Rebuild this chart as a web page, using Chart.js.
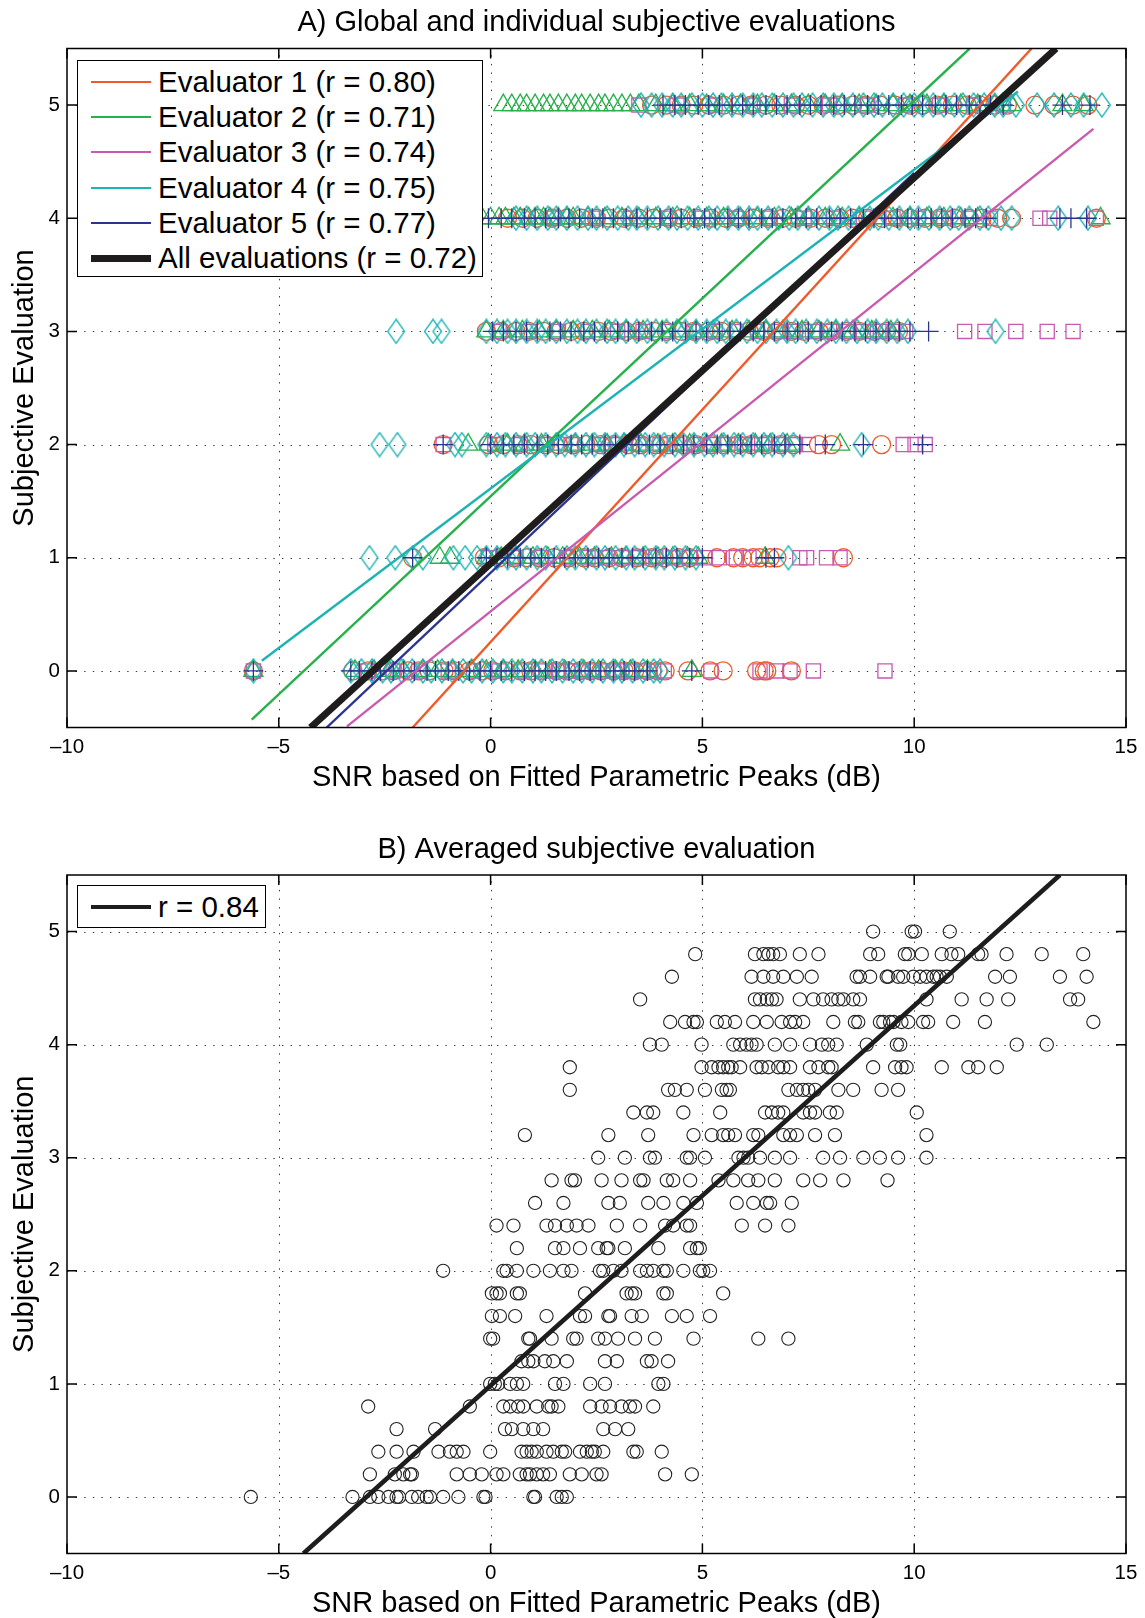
<!DOCTYPE html>
<html lang="en">
<head>
<meta charset="utf-8">
<title>SNR vs subjective evaluation</title>
<script src="https://cdn.jsdelivr.net/npm/chart.js@4.4.1/dist/chart.umd.min.js"></script>
<style>
  body { margin: 0; background: #fff; }
  #page { position: relative; width: 1145px; height: 1618px; overflow: hidden;
          font-family: "Liberation Sans", Arial, sans-serif; }
  canvas { position: absolute; left: 0; }
  .legend { position: absolute; background: #fff; border: 1.5px solid #000; box-sizing: border-box;
            font-size: 29.5px; color: #000; }
  .legend .row { display: flex; align-items: center; height: 35.3px; white-space: nowrap; }
  .legend .swatch { width: 60px; margin-left: 13px; margin-right: 7px; }
</style>
</head>
<body>
<div id="page">
  <canvas id="chartA" width="1145" height="800" style="top:0"></canvas>
  <canvas id="chartB" width="1145" height="814" style="top:804px"></canvas>
  <div class="legend" id="legendA" style="left:77px; top:60px; width:406px; height:217px; padding-top:3px"></div>
  <div class="legend" id="legendB" style="left:77px; top:885px; width:189px; height:43px; padding-top:3px"></div>
</div>
<script>
// ---- data ----
const xTicks = [-10, -5, 0, 5, 10, 15];
const yTicks = [0, 1, 2, 3, 4, 5];
const ratingLevels = [0, 1, 2, 3, 4, 5];

// SNR (dB) of the recordings each evaluator put at rating 0..5
const eval1Snr = [
  [-5.6, -3.25, -2.9, -2.55, -2.3, -1.95, -1.7, -1.45, -1.1, -0.85, -0.5, -0.2, 0.05, 0.35, 0.7, 0.95, 1.2, 1.55, 1.8, 2.1, 2.35, 2.6, 2.9, 3.15, 3.4, 3.7, 3.95, 4.12, 4.66, 5.18, 5.49, 6.28, 6.46, 6.52, 7.1],
  [-1.84, -0.15, 0.2, 0.55, 0.85, 1.15, 1.5, 1.85, 2.2, 2.45, 2.8, 3.1, 3.45, 3.8, 4.1, 4.45, 4.7, 5.34, 5.73, 5.95, 6.2, 6.35, 6.6, 6.76, 8.33],
  [-1.12, -0.05, 0.3, 0.65, 0.95, 1.3, 1.6, 1.95, 2.25, 2.6, 2.9, 3.25, 3.55, 3.9, 4.2, 4.55, 4.85, 5.2, 5.5, 5.85, 6.15, 6.5, 6.85, 7.15, 7.74, 8.05, 9.23],
  [-0.1, 0.25, 0.6, 0.9, 1.25, 1.55, 1.9, 2.2, 2.55, 2.85, 3.2, 3.5, 3.85, 4.15, 4.5, 4.8, 5.15, 5.45, 5.8, 6.1, 6.45, 6.75, 7.1, 7.4, 7.75, 8.05, 8.4, 8.7, 9.05, 9.35, 9.63],
  [0.4, 0.75, 1.1, 1.45, 1.8, 2.15, 2.5, 2.8, 3.15, 3.5, 3.85, 4.2, 4.5, 4.85, 5.2, 5.55, 5.85, 6.2, 6.55, 6.9, 7.2, 7.55, 7.9, 8.25, 8.55, 8.9, 9.25, 9.6, 9.9, 10.25, 10.6, 10.95, 11.3, 11.6, 11.97, 12.3, 14.3],
  [3.8, 4.15, 4.5, 4.8, 5.15, 5.5, 5.85, 6.15, 6.5, 6.85, 7.2, 7.5, 7.85, 8.2, 8.55, 8.85, 9.2, 9.55, 9.9, 10.2, 10.55, 10.9, 11.25, 11.55, 11.9, 12.2, 12.85, 13.3, 13.75, 14.1]
];
const eval2Snr = [
  [-5.6, -3.2, -2.75, -2.4, -2.05, -1.6, -1.25, -0.9, -0.45, -0.1, 0.3, 0.65, 1.05, 1.4, 1.75, 2.2, 2.55, 2.95, 3.3, 3.7, 4.75],
  [-1.2, -0.96, -0.1, 0.25, 0.6, 1.0, 1.35, 1.7, 2.1, 2.45, 2.85, 3.2, 3.6, 3.95, 4.3, 4.65, 4.9, 6.48],
  [-0.53, -0.05, 0.4, 0.8, 1.2, 1.6, 2.0, 2.4, 2.75, 3.15, 3.55, 3.95, 4.3, 4.7, 5.1, 5.45, 5.85, 6.25, 6.6, 7.0, 8.25],
  [-0.1, 0.3, 0.75, 1.15, 1.55, 1.95, 2.4, 2.8, 3.2, 3.6, 4.05, 4.45, 4.85, 5.25, 5.7, 6.1, 6.5, 6.9, 7.35, 7.75, 8.15, 8.55, 9.0, 9.45],
  [-0.2, 0.0, 0.2, 0.35, 0.55, 0.7, 0.9, 1.05, 1.25, 1.4, 1.6, 1.8, 1.95, 2.3, 2.7, 3.1, 3.5, 3.9, 4.3, 4.7, 5.1, 5.5, 5.9, 6.3, 6.7, 7.1, 7.5, 7.9, 8.3, 8.7, 9.1, 9.5, 9.9, 10.3, 10.7, 11.1, 11.5, 14.4],
  [0.3, 0.5, 0.7, 0.85, 1.05, 1.25, 1.4, 1.6, 1.8, 2.0, 2.15, 2.35, 2.55, 2.7, 2.9, 3.1, 3.3, 3.5, 3.9, 4.3, 4.7, 5.1, 5.5, 5.9, 6.3, 6.7, 7.1, 7.5, 7.9, 8.3, 8.7, 9.1, 9.5, 9.9, 10.3, 10.7, 11.1, 11.5, 11.9, 12.3, 13.5, 14.0]
];
const eval3Snr = [
  [-5.6, -2.9, -2.3, -1.7, -1.0, -0.4, 0.2, 0.8, 1.3, 1.6, 1.9, 2.15, 2.4, 2.65, 2.9, 3.1, 3.35, 3.6, 3.85, 4.1, 5.2, 6.36, 6.75, 7.07, 7.62, 9.31],
  [-0.05, 0.6, 1.2, 1.8, 2.3, 2.7, 3.1, 3.5, 3.9, 4.3, 4.7, 5.05, 5.4, 5.8, 6.1, 7.3, 7.46, 7.93, 8.25],
  [-1.12, 0.1, 0.7, 1.3, 1.9, 2.5, 3.0, 3.5, 4.0, 4.4, 4.8, 5.2, 5.6, 6.0, 6.4, 6.8, 7.2, 7.5, 9.74, 10.02, 10.26],
  [0.2, 0.9, 1.6, 2.3, 3.0, 3.6, 4.2, 4.8, 5.3, 5.8, 6.3, 6.8, 7.2, 7.6, 8.0, 8.4, 8.8, 9.2, 9.5, 9.8, 11.19, 11.67, 12.4, 13.14, 13.75],
  [1.5, 2.4, 3.3, 4.2, 5.0, 5.8, 6.6, 7.4, 8.1, 8.8, 9.5, 10.1, 10.7, 11.3, 11.8, 12.97, 13.2, 14.3],
  [3.5, 4.4, 5.3, 6.2, 7.1, 8.0, 8.9, 9.8, 10.6, 11.4, 12.1]
];
const eval4Snr = [
  [-5.6, -3.3, -3.05, -2.8, -2.55, -2.35, -2.1, -1.85, -1.6, -1.4, -1.15, -0.9, -0.65, -0.45, -0.2, 0.05, 0.3, 0.5, 0.75, 1.0, 1.2, 1.45, 1.7, 1.95, 2.15, 2.4, 2.65, 2.9, 3.1, 3.35, 3.6, 3.85, 4.0],
  [-2.86, -2.25, -1.84, -1.6, -0.88, -0.6, -0.32, -0.1, 0.15, 0.4, 0.6, 0.85, 1.1, 1.3, 1.55, 1.8, 2.0, 2.25, 2.5, 2.7, 2.95, 3.2, 3.4, 3.65, 3.9, 4.1, 4.35, 4.6, 4.85, 7.03],
  [-2.62, -2.2, -0.84, -0.68, -0.1, 0.15, 0.35, 0.6, 0.85, 1.05, 1.3, 1.55, 1.75, 2.0, 2.25, 2.45, 2.7, 2.95, 3.15, 3.4, 3.65, 3.85, 4.1, 4.35, 4.55, 4.8, 5.05, 5.25, 5.5, 5.75, 5.95, 6.2, 6.45, 6.65, 6.9, 7.15, 8.76],
  [-2.23, -1.36, -1.16, -0.1, 0.15, 0.4, 0.6, 0.85, 1.1, 1.3, 1.55, 1.8, 2.05, 2.25, 2.5, 2.75, 2.95, 3.2, 3.45, 3.7, 3.9, 4.15, 4.4, 4.6, 4.85, 5.1, 5.35, 5.55, 5.8, 6.05, 6.3, 6.5, 6.75, 7.0, 7.2, 7.45, 7.7, 7.95, 8.15, 8.4, 8.65, 8.9, 9.1, 9.35, 9.6, 9.85, 11.92],
  [0.6, 0.85, 1.1, 1.35, 1.55, 1.8, 2.05, 2.3, 2.5, 2.75, 3.0, 3.25, 3.45, 3.7, 3.95, 4.2, 4.4, 4.65, 4.9, 5.15, 5.35, 5.6, 5.85, 6.1, 6.3, 6.55, 6.8, 7.05, 7.25, 7.5, 7.75, 8.0, 8.2, 8.45, 8.7, 8.95, 9.15, 9.4, 9.65, 9.9, 10.1, 10.35, 10.6, 10.85, 11.05, 11.3, 11.55, 11.75, 12.05, 12.3, 13.4, 14.1],
  [3.55, 3.8, 4.05, 4.3, 4.5, 4.75, 5.0, 5.25, 5.45, 5.7, 5.95, 6.2, 6.4, 6.65, 6.9, 7.15, 7.35, 7.6, 7.85, 8.1, 8.3, 8.55, 8.8, 9.05, 9.25, 9.5, 9.75, 10.0, 10.2, 10.45, 10.7, 10.95, 11.15, 11.4, 11.65, 11.9, 12.1, 12.4, 12.9, 13.3, 13.7, 14.0, 14.43]
];
const eval5Snr = [
  [-5.6, -3.3, -3.1, -2.8, -2.6, -2.3, -2.05, -1.8, -1.5, -1.3, -1.0, -0.75, -0.5, -0.25, 0.0, 0.25, 0.5, 0.8, 1.05, 1.3, 1.55, 1.85, 2.1, 2.35, 2.6, 2.9, 3.15, 3.4, 3.7, 4.75],
  [-1.84, -0.1, 0.15, 0.4, 0.7, 0.95, 1.2, 1.5, 1.75, 2.0, 2.3, 2.55, 2.8, 3.1, 3.35, 3.6, 3.9, 4.15, 4.4, 4.7, 5.0, 6.5, 6.7],
  [-1.12, 0.0, 0.3, 0.55, 0.8, 1.1, 1.35, 1.6, 1.9, 2.15, 2.4, 2.7, 2.95, 3.2, 3.5, 3.75, 4.0, 4.3, 4.55, 4.8, 5.1, 5.35, 5.6, 5.9, 6.15, 6.4, 6.7, 6.95, 7.3, 7.9, 8.8, 10.2],
  [0.05, 0.3, 0.6, 0.85, 1.1, 1.4, 1.65, 1.9, 2.2, 2.45, 2.7, 3.0, 3.25, 3.5, 3.8, 4.05, 4.3, 4.6, 4.85, 5.1, 5.4, 5.65, 5.9, 6.2, 6.45, 6.7, 7.0, 7.25, 7.5, 7.8, 8.05, 8.3, 8.6, 8.85, 9.1, 9.4, 9.65, 9.9, 10.34],
  [-0.05, 0.25, 0.5, 0.8, 1.05, 1.3, 1.6, 1.85, 2.1, 2.4, 2.65, 2.9, 3.2, 3.45, 3.7, 4.0, 4.25, 4.5, 4.8, 5.05, 5.3, 5.6, 5.85, 6.1, 6.4, 6.65, 6.9, 7.2, 7.45, 7.7, 8.0, 8.25, 8.5, 8.8, 9.05, 9.3, 9.6, 9.85, 10.1, 10.4, 10.65, 10.9, 11.2, 11.45, 11.7, 13.44, 13.7, 14.07],
  [4.07, 4.35, 4.6, 4.9, 5.15, 5.4, 5.7, 5.95, 6.2, 6.5, 6.75, 7.0, 7.3, 7.55, 7.8, 8.1, 8.35, 8.6, 8.9, 9.15, 9.4, 9.7, 9.95, 10.2, 10.5, 10.75, 11.0, 11.3, 11.55, 11.8, 12.1, 13.5, 14.15]
];

// fitted lines, endpoints as drawn (x in dB, y in rating)
const fitLabels = ['Evaluator 1 (r = 0.80)', 'Evaluator 2 (r = 0.71)', 'Evaluator 3 (r = 0.74)',
                   'Evaluator 4 (r = 0.75)', 'Evaluator 5 (r = 0.77)', 'All evaluations (r = 0.72)'];
const fitStartX = [-1.84, -5.64, -3.39, -5.40, -3.87, -4.25];
const fitStartY = [-0.5, -0.43, -0.49, 0.09, -0.5, -0.5];
const fitEndX = [12.77, 11.31, 14.23, 12.45, 10.0, 13.35];
const fitEndY = [5.5, 5.5, 4.79, 5.12, 4.40, 5.5];

// averaged evaluation: levels (steps of 0.2) and the SNR of the recordings at each level
const avgLevels = [0, 0.2, 0.4, 0.6, 0.8, 1.0, 1.2, 1.4, 1.6, 1.8, 2.0, 2.2, 2.4, 2.6, 2.8,
                   3.0, 3.2, 3.4, 3.6, 3.8, 4.0, 4.2, 4.4, 4.6, 4.8, 5.0];
const avgSnr = [
  [-5.66, -3.26, -2.85, -2.65, -2.41, -2.22, -2.16, -1.86, -1.71, -1.51, -1.43, -1.12, -0.76, -0.17, -0.12, 1.01, 1.05, 1.56, 1.68, 1.80],
  [-2.85, -2.26, -2.06, -1.90, -1.86, -0.80, -0.49, -0.21, 0.14, 0.30, 0.69, 0.85, 0.93, 1.09, 1.24, 1.40, 1.87, 2.15, 2.50, 2.62, 4.12, 4.75],
  [-2.65, -2.22, -1.82, -1.23, -0.96, -0.80, -0.64, -0.01, 0.73, 0.85, 0.97, 1.09, 1.32, 1.48, 1.68, 1.76, 2.11, 2.27, 2.39, 2.46, 2.66, 3.37, 3.45, 4.04],
  [-2.22, -1.31, 0.34, 0.50, 0.77, 1.01, 1.24, 2.66, 2.94, 3.25],
  [-2.89, -0.49, 0.30, 0.46, 0.65, 0.77, 1.09, 1.36, 1.44, 1.60, 2.35, 2.62, 2.82, 3.09, 3.29, 3.41, 3.84],
  [-0.01, 0.10, 0.18, 0.46, 0.62, 0.77, 1.52, 1.72, 2.35, 2.70, 3.96, 4.08],
  [0.73, 0.89, 1.01, 1.28, 1.48, 1.80, 2.70, 2.98, 3.69, 3.80, 4.19],
  [-0.01, 0.06, 0.89, 0.93, 1.44, 1.95, 2.03, 2.54, 2.70, 3.01, 3.41, 3.88, 4.79, 6.32, 7.03],
  [0.03, 0.22, 0.58, 1.32, 2.11, 2.23, 2.78, 2.82, 3.33, 3.57, 4.28, 4.63, 5.18],
  [0.03, 0.14, 0.22, 0.62, 0.69, 2.23, 3.21, 3.33, 3.41, 4.08, 4.16, 5.49],
  [-1.12, 0.30, 0.38, 0.62, 1.01, 1.40, 1.72, 1.91, 2.58, 2.66, 2.90, 3.09, 3.53, 3.69, 3.84, 4.08, 4.16, 4.55, 4.94, 5.02, 5.18],
  [0.62, 1.52, 1.72, 2.11, 2.54, 2.74, 2.78, 3.17, 3.96, 4.71, 4.87, 4.94],
  [0.14, 0.54, 1.32, 1.52, 1.80, 2.03, 2.31, 2.98, 3.53, 4.12, 4.31, 4.63, 4.71, 5.93, 6.48, 7.03],
  [1.05, 1.72, 2.78, 3.05, 3.72, 4.08, 4.55, 4.87, 5.81, 6.20, 6.52, 6.60, 7.11],
  [1.44, 1.91, 1.99, 2.62, 3.09, 3.53, 3.61, 4.16, 4.31, 4.71, 5.38, 5.73, 6.08, 6.32, 6.71, 7.38, 7.78, 8.33, 9.37],
  [2.54, 3.17, 3.76, 3.88, 4.63, 4.71, 5.06, 5.85, 5.97, 6.08, 6.36, 6.71, 7.07, 7.85, 8.25, 8.80, 9.19, 9.62, 10.29],
  [0.81, 2.78, 3.72, 4.79, 5.22, 5.49, 5.61, 5.77, 6.20, 6.32, 6.91, 7.07, 7.23, 7.66, 8.13, 10.29],
  [3.37, 3.69, 3.84, 4.55, 5.42, 6.48, 6.64, 6.79, 6.91, 7.38, 7.54, 7.66, 8.01, 8.17, 10.06],
  [1.87, 4.19, 4.35, 4.63, 5.06, 5.46, 5.57, 5.65, 7.03, 7.23, 7.38, 7.50, 7.66, 8.21, 8.56, 9.23, 9.62],
  [1.87, 4.98, 5.22, 5.38, 5.49, 5.61, 5.69, 5.89, 6.28, 6.40, 6.56, 6.79, 6.91, 7.07, 7.54, 7.74, 7.97, 8.05, 9.03, 9.55, 9.70, 9.82, 10.65, 11.28, 11.51, 11.95],
  [3.76, 4.04, 4.98, 5.73, 5.89, 6.04, 6.16, 6.28, 6.71, 7.07, 7.54, 7.82, 7.97, 8.17, 8.88, 9.59, 9.67, 12.42, 13.13],
  [4.24, 4.59, 4.79, 4.87, 5.34, 5.53, 5.77, 6.20, 6.52, 6.87, 7.07, 7.19, 7.38, 8.09, 8.60, 8.68, 9.19, 9.27, 9.43, 9.51, 9.70, 9.86, 10.21, 10.33, 10.92, 11.67, 14.23],
  [3.53, 6.24, 6.36, 6.52, 6.64, 6.75, 7.30, 7.62, 7.85, 8.05, 8.21, 8.33, 8.56, 8.72, 10.29, 11.12, 11.71, 12.22, 13.68, 13.87],
  [4.28, 6.16, 6.44, 6.67, 6.91, 7.23, 7.58, 8.64, 8.72, 8.96, 9.35, 9.39, 9.62, 9.74, 9.98, 10.14, 10.29, 10.45, 10.53, 10.61, 10.77, 11.91, 12.26, 13.44, 14.07],
  [4.83, 6.24, 6.44, 6.56, 6.67, 6.83, 7.30, 7.74, 8.96, 9.15, 9.78, 9.86, 10.18, 10.65, 10.88, 11.04, 11.51, 11.59, 12.18, 13.01, 13.99],
  [9.03, 9.94, 10.02, 10.84]
];
const avgFitLabel = 'r = 0.84';
const avgFitX = [-4.42, 13.44];
const avgFitY = [-0.5, 5.5];

// ---- styling ----
const FONT = '"Liberation Sans", Arial, Helvetica, sans-serif';
Chart.defaults.font.family = FONT;
Chart.defaults.color = '#000';

const evalColors = ['#ef5a2a', '#27b04b', '#c95aae', '#1db3b3', '#2b3590'];
const allColor = '#1e1c1c';

function diamondMarker(color) {
  const c = document.createElement('canvas');
  c.width = 20; c.height = 26;
  const g = c.getContext('2d');
  g.strokeStyle = color; g.lineWidth = 1.3;
  g.beginPath();
  g.moveTo(10, 1); g.lineTo(18.5, 13); g.lineTo(10, 25); g.lineTo(1.5, 13);
  g.closePath(); g.stroke();
  return c;
}

const markerStyles = ['circle', 'triangle', 'rect', diamondMarker(evalColors[3]), 'cross'];
const markerRadius = [9, 11, 10, 10, 10];
const markerOrder = [14, 13, 12, 11, 10];

function tickText(v) { return v < 0 ? '\u2013' + Math.abs(v) : String(v); }

// dotted grid, boxed frame with inward ticks, and the panel title
const matlabAxes = {
  id: 'matlabAxes',
  beforeDatasetsDraw(chart) {
    const { ctx, chartArea: a, scales: { x, y } } = chart;
    ctx.save();
    ctx.strokeStyle = '#3a3a3a'; ctx.lineWidth = 1; ctx.setLineDash([1.4, 7.2]);
    xTicks.forEach(v => {
      const px = Math.round(x.getPixelForValue(v)) + 0.5;
      if (px <= a.left + 1 || px >= a.right - 1) return;
      ctx.beginPath(); ctx.moveTo(px, a.bottom); ctx.lineTo(px, a.top); ctx.stroke();
    });
    yTicks.forEach(v => {
      const py = Math.round(y.getPixelForValue(v)) + 0.5;
      if (py <= a.top + 1 || py >= a.bottom - 1) return;
      ctx.beginPath(); ctx.moveTo(a.left, py); ctx.lineTo(a.right, py); ctx.stroke();
    });
    ctx.restore();
  },
  afterDatasetsDraw(chart, args, opts) {
    const { ctx, chartArea: a, scales: { x, y } } = chart;
    ctx.save();
    ctx.strokeStyle = '#000'; ctx.lineWidth = 1.5;
    ctx.strokeRect(a.left, a.top, a.right - a.left, a.bottom - a.top);
    ctx.beginPath();
    xTicks.forEach(v => {
      const px = x.getPixelForValue(v);
      ctx.moveTo(px, a.bottom); ctx.lineTo(px, a.bottom - 10);
      ctx.moveTo(px, a.top); ctx.lineTo(px, a.top + 10);
    });
    yTicks.forEach(v => {
      const py = y.getPixelForValue(v);
      ctx.moveTo(a.left, py); ctx.lineTo(a.left + 10, py);
      ctx.moveTo(a.right, py); ctx.lineTo(a.right - 10, py);
    });
    ctx.stroke();
    ctx.fillStyle = '#000';
    ctx.font = '29px ' + FONT;
    ctx.textAlign = 'center'; ctx.textBaseline = 'middle';
    ctx.fillText(opts.title, (a.left + a.right) / 2, a.top - opts.titleGap);
    ctx.restore();
  }
};

function axesOptions(xHeight, xTitlePad) {
  return {
    x: {
      type: 'linear', min: -10, max: 15,
      grid: { display: false, drawTicks: false }, border: { display: false },
      ticks: { font: { size: 20.5 }, color: '#000', padding: 7.2, autoSkip: false, maxRotation: 0, callback: tickText },
      title: { display: true, text: 'SNR based on Fitted Parametric Peaks (dB)', font: { size: 29, lineHeight: 1 },
               color: '#000', padding: { top: 0, bottom: xTitlePad } },
      afterBuildTicks: s => { s.ticks = xTicks.map(v => ({ value: v })); },
      afterFit: s => { s.height = xHeight; }
    },
    y: {
      type: 'linear', min: -0.5, max: 5.5,
      grid: { display: false, drawTicks: false }, border: { display: false },
      ticks: { font: { size: 20.5 }, color: '#000', padding: 7, callback: tickText },
      title: { display: true, text: 'Subjective Evaluation', font: { size: 29 }, color: '#000',
               padding: { top: 7.7, bottom: 0 } },
      afterBuildTicks: s => { s.ticks = yTicks.map(v => ({ value: v })); },
      afterFit: s => { s.width = 67; }
    }
  };
}

// ---- panel A ----
const datasetsA = [];
[eval1Snr, eval2Snr, eval3Snr, eval4Snr, eval5Snr].forEach((byLevel, i) => {
  const pts = [];
  byLevel.forEach((xs, k) => xs.forEach(v => pts.push({ x: v, y: ratingLevels[k] })));
  datasetsA.push({
    label: 'Evaluator ' + (i + 1) + ' ratings',
    data: pts,
    pointStyle: markerStyles[i],
    pointRadius: markerRadius[i],
    pointBorderWidth: 1.3,
    borderColor: evalColors[i],
    backgroundColor: 'rgba(0,0,0,0)',
    order: markerOrder[i]
  });
});
fitLabels.forEach((lab, i) => {
  const isAll = i === 5;
  datasetsA.push({
    label: lab,
    data: [{ x: fitStartX[i], y: fitStartY[i] }, { x: fitEndX[i], y: fitEndY[i] }],
    showLine: true, pointRadius: 0, fill: false, clip: 0,
    borderColor: isAll ? allColor : evalColors[i],
    borderWidth: isAll ? 7 : 2.4,
    order: isAll ? 0 : 5 - i
  });
});

new Chart(document.getElementById('chartA'), {
  type: 'scatter',
  data: { datasets: datasetsA },
  options: {
    responsive: false, animation: false, events: [],
    layout: { padding: { top: 48.5, right: 19, left: 0, bottom: 0 } },
    plugins: {
      legend: { display: false }, tooltip: { enabled: false },
      matlabAxes: { title: 'A) Global and individual subjective evaluations', titleGap: 25.5 }
    },
    scales: axesOptions(72.5, 7.1)
  },
  plugins: [matlabAxes]
});

// ---- panel B ----
const avgPoints = [];
avgSnr.forEach((xs, k) => xs.forEach(v => avgPoints.push({ x: v, y: avgLevels[k] })));

new Chart(document.getElementById('chartB'), {
  type: 'scatter',
  data: {
    datasets: [
      { label: 'Averaged evaluation', data: avgPoints, pointStyle: 'circle', pointRadius: 6.6,
        pointBorderWidth: 1.1, borderColor: '#222', backgroundColor: 'rgba(0,0,0,0)', order: 2 },
      { label: avgFitLabel, data: [{ x: avgFitX[0], y: avgFitY[0] }, { x: avgFitX[1], y: avgFitY[1] }],
        showLine: true, pointRadius: 0, fill: false, clip: 0, borderColor: allColor, borderWidth: 4.6, order: 1 }
    ]
  },
  options: {
    responsive: false, animation: false, events: [],
    layout: { padding: { top: 71, right: 19, left: 0, bottom: 0 } },
    plugins: {
      legend: { display: false }, tooltip: { enabled: false },
      matlabAxes: { title: 'B) Averaged subjective evaluation', titleGap: 25.5 }
    },
    scales: axesOptions(64.5, 0)
  },
  plugins: [matlabAxes]
});

// ---- legends ----
function legendRow(color, width, text) {
  return '<div class="row"><div class="swatch" style="height:' + width + 'px;background:' + color +
         '"></div><span>' + text + '</span></div>';
}
document.getElementById('legendA').innerHTML = fitLabels.map((lab, i) =>
  legendRow(i === 5 ? allColor : evalColors[i], i === 5 ? 7 : 2, lab)).join('');
document.getElementById('legendB').innerHTML = legendRow(allColor, 4, avgFitLabel);
</script>
</body>
</html>
